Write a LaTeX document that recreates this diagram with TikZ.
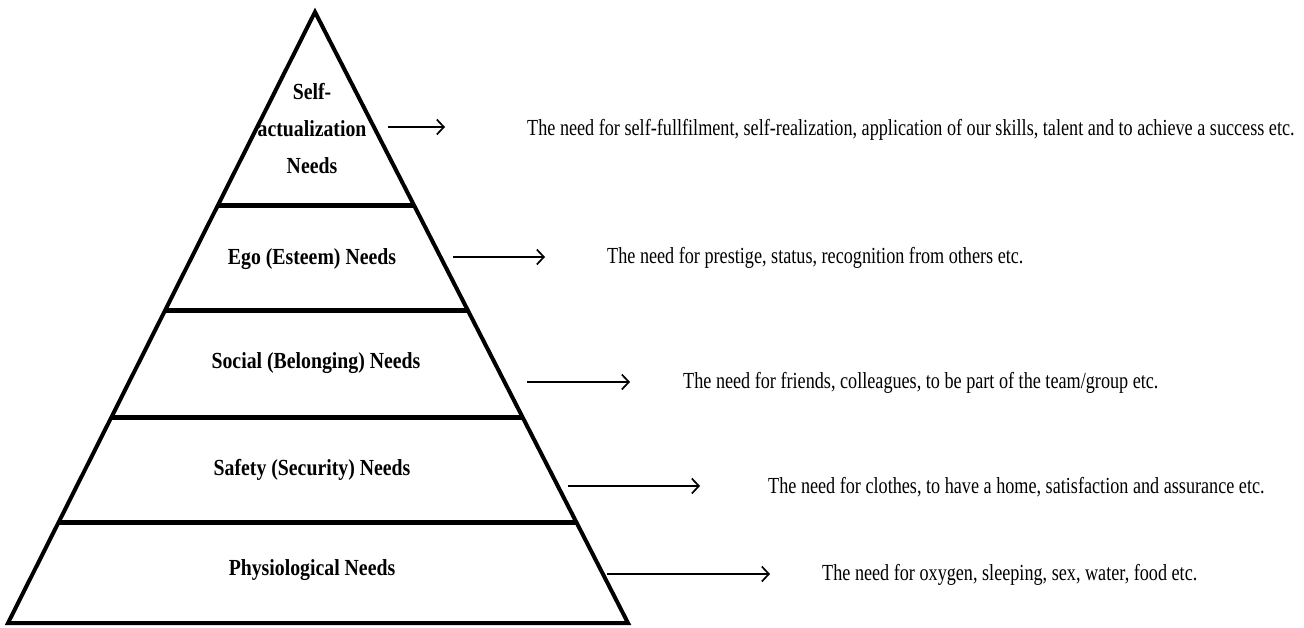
\documentclass[tikz,border=0pt]{standalone}
\usepackage{fontspec}
\setmainfont{Liberation Serif}
\newfontfamily\descfont[FakeStretch=0.79]{Liberation Serif}
\newfontfamily\needfont[FakeStretch=0.86]{Liberation Serif}
\usetikzlibrary{arrows.meta,calc}

\begin{document}
\begin{tikzpicture}[x=1pt,y=-1pt]
        \tikzstyle{need} = [font=\needfont\fontsize{23}{37}\selectfont\bfseries, inner sep=0pt, align=center];
        \tikzstyle{desc} = [font=\descfont\fontsize{23}{26}\selectfont, inner sep=0pt, anchor=west];
        \tikzstyle{side} = [line width=4pt, line join=miter];
        \tikzstyle{level} = [line width=5pt];
        \tikzstyle{pointer} = [line width=1.7pt, -{Straight Barb[length=7pt,width=15pt,line width=1.7pt]}];
        \useasboundingbox (0,0) rectangle (1304,628);

        % pyramid
        \coordinate (apex) at (315,12);
        \coordinate (bl) at (8,623);
        \coordinate (br) at (628,623);
        \draw [side] (apex) -- (bl) -- (br) -- cycle;
        \draw [level] ($(apex)!0.316!(bl)$) -- ($(apex)!0.316!(br)$);
        \draw [level] ($(apex)!0.488!(bl)$) -- ($(apex)!0.488!(br)$);
        \draw [level] ($(apex)!0.664!(bl)$) -- ($(apex)!0.664!(br)$);
        \draw [level] ($(apex)!0.835!(bl)$) -- ($(apex)!0.835!(br)$);

        \node [need] (self) at (312,129) {Self-\\actualization\\Needs};
        \node [need] (ego) at (312,259) {Ego (Esteem) Needs};
        \node [need] (social) at (316,363) {Social (Belonging) Needs};
        \node [need] (safety) at (312,470) {Safety (Security) Needs};
        \node [need] (physio) at (312,570) {Physiological Needs};

        % descriptions
        \node [desc] (selfd) at (527,130) {The need for self-fullfilment, self-realization, application of our skills, talent and to achieve a success etc.};
        \node [desc] (egod) at (607,258) {The need for prestige, status, recognition from others etc.};
        \node [desc] (sociald) at (683,383) {The need for friends, colleagues, to be part of the team/group etc.};
        \node [desc] (safetyd) at (768,487) {The need for clothes, to have a home, satisfaction and assurance etc.};
        \node [desc] (physiod) at (822,575) {The need for oxygen, sleeping, sex, water, food etc.};

        \coordinate (s1) at (388,127); \coordinate (e1) at (445,127);
        \coordinate (s2) at (453,257); \coordinate (e2) at (545,257);
        \coordinate (s3) at (527,382); \coordinate (e3) at (630,382);
        \coordinate (s4) at (568,486); \coordinate (e4) at (700,486);
        \coordinate (s5) at (607,574); \coordinate (e5) at (770,574);
        \draw [pointer] (s1) -- (e1);
        \draw [pointer] (s2) -- (e2);
        \draw [pointer] (s3) -- (e3);
        \draw [pointer] (s4) -- (e4);
        \draw [pointer] (s5) -- (e5);
\end{tikzpicture}
\end{document}
